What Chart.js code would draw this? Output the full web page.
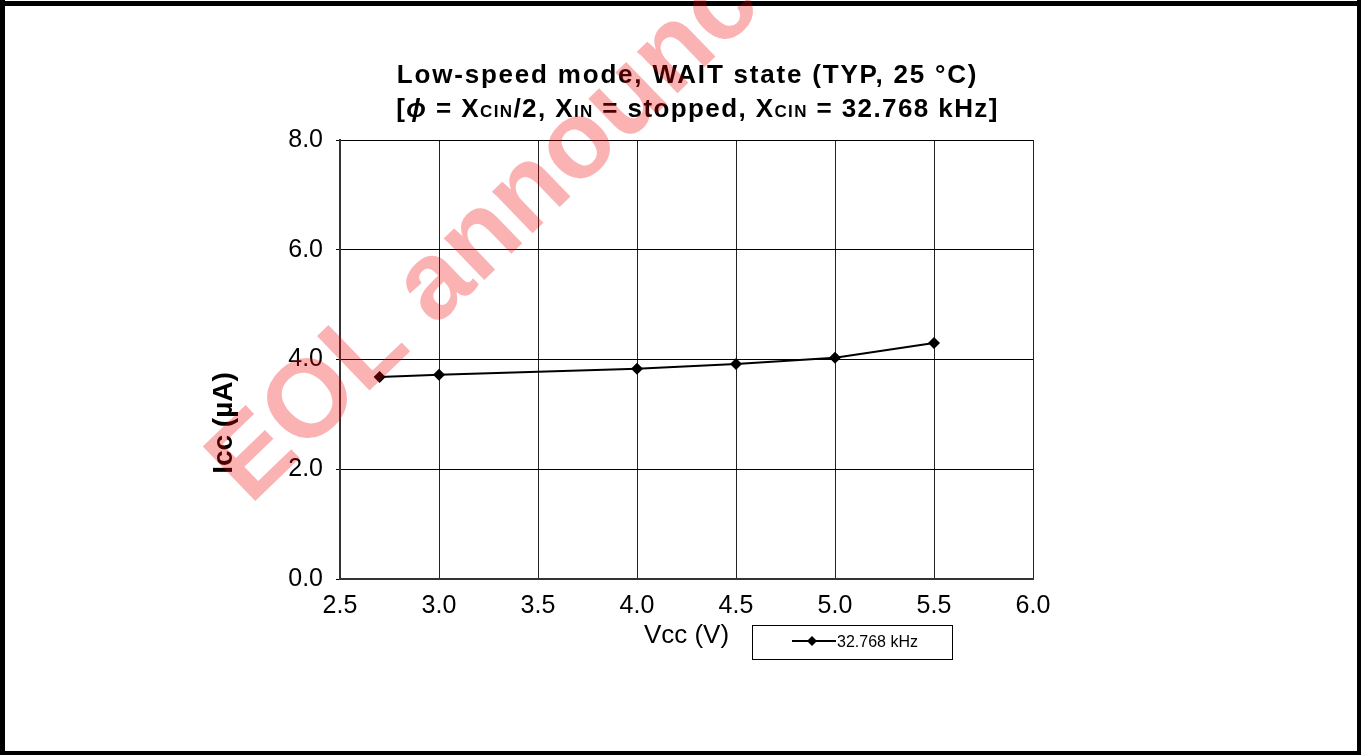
<!DOCTYPE html>
<html>
<head>
<meta charset="utf-8">
<script src="https://cdn.jsdelivr.net/npm/chart.js@4.4.0/dist/chart.umd.min.js"></script>
<style>
  html, body { margin: 0; padding: 0; background: #fff; }
  canvas { display: block; }
</style>
</head>
<body>
<canvas id="icc" width="1361" height="755"></canvas>
<script>
// supply voltage (V) vs typical supply current (uA), sub-clock 32.768 kHz
const vcc = [2.7, 3.0, 4.0, 4.5, 5.0, 5.5];
const icc = [3.68, 3.72, 3.83, 3.92, 4.03, 4.30];
const seriesName = "32.768 kHz";
const xTicks = [2.5, 3.0, 3.5, 4.0, 4.5, 5.0, 5.5, 6.0];
const yTicks = [0, 2, 4, 6, 8];

const FONT = "'Liberation Sans', Arial, sans-serif";

// title line 2 is built from pieces so the CIN / IN suffixes can be smaller
const titleLine1 = "Low-speed mode, WAIT state (TYP, 25 °C)";
const titleLine2 = [
  ["[", 0], ["ϕ", 2], [" = X", 0], ["CIN", 1], ["/2, X", 0], ["IN", 1],
  [" = stopped, X", 0], ["CIN", 1], [" = 32.768 kHz]", 0]
];

function pieceFont(kind) {
  if (kind === 1) return "bold 17px " + FONT;
  if (kind === 2) return "italic bold 26px " + FONT;
  return "bold 26px " + FONT;
}

function spacing(ctx, px) {
  if ("letterSpacing" in ctx) ctx.letterSpacing = px + "px";
}

const decorations = {
  id: "decorations",
  afterDraw(chart) {
    const ctx = chart.ctx;
    const area = chart.chartArea;
    const mid = (area.left + area.right) / 2;
    ctx.save();
    ctx.fillStyle = "#000";
    ctx.textBaseline = "alphabetic";

    // title
    spacing(ctx, 1.8);
    ctx.font = pieceFont(0);
    ctx.textAlign = "center";
    ctx.fillText(titleLine1, mid + 1, 83);

    spacing(ctx, 1.4);
    ctx.textAlign = "left";
    let total = 0;
    for (const [t, k] of titleLine2) {
      ctx.font = pieceFont(k);
      total += ctx.measureText(t).width;
    }
    let x = mid + 11 - total / 2;
    for (const [t, k] of titleLine2) {
      ctx.font = pieceFont(k);
      ctx.fillText(t, x, 117);
      x += ctx.measureText(t).width;
    }
    spacing(ctx, 0);

    // axis titles
    ctx.textAlign = "center";
    ctx.font = "26px " + FONT;
    ctx.fillText("Vcc (V)", mid, 643);

    ctx.save();
    ctx.translate(232, 423);
    ctx.rotate(-Math.PI / 2);
    ctx.font = "bold 28px " + FONT;
    ctx.fillText("Icc (µA)", 0, 0);
    ctx.restore();

    // legend box
    ctx.strokeStyle = "#000";
    ctx.lineWidth = 1;
    ctx.strokeRect(752.5, 625.5, 200, 34);
    ctx.lineWidth = 2;
    ctx.beginPath();
    ctx.moveTo(792, 641);
    ctx.lineTo(836, 641);
    ctx.stroke();
    ctx.beginPath();
    ctx.moveTo(812, 636);
    ctx.lineTo(817, 641);
    ctx.lineTo(812, 646);
    ctx.lineTo(807, 641);
    ctx.closePath();
    ctx.fill();
    ctx.textAlign = "left";
    ctx.font = "16px " + FONT;
    ctx.fillText(seriesName, 837, 647);

    // outer frame
    ctx.fillRect(0, 1, chart.width, 5);
    ctx.fillRect(0, 0, 5, chart.height);
    ctx.fillRect(chart.width - 4, 0, 4, chart.height);
    ctx.fillRect(0, chart.height - 4, chart.width, 4);

    // watermark stamp
    ctx.translate(250, 506);
    ctx.rotate(-44 * Math.PI / 180);
    ctx.font = "bold 110px " + FONT;
    ctx.fillStyle = "rgba(238, 0, 0, 0.3)";
    ctx.fillText("EOL announced", 0, 0);
    ctx.restore();
  }
};

const ctx = document.getElementById("icc").getContext("2d");
const chart = new Chart(ctx, {
  type: "line",
  data: {
    datasets: [{
      label: seriesName,
      data: vcc.map((v, i) => ({ x: v, y: icc[i] })),
      borderColor: "#000",
      backgroundColor: "#000",
      borderWidth: 2,
      pointStyle: "rectRot",
      pointRadius: 6,
      pointBackgroundColor: "#000",
      pointBorderWidth: 0,
      tension: 0,
      fill: false
    }]
  },
  options: {
    responsive: false,
    animation: false,
    layout: { padding: { top: 140, right: 328, bottom: 0, left: 0 } },
    plugins: {
      legend: { display: false },
      tooltip: { enabled: false },
      title: { display: false }
    },
    scales: {
      x: {
        type: "linear",
        min: 2.5,
        max: 6.0,
        afterBuildTicks: s => { s.ticks = xTicks.map(v => ({ value: v })); },
        afterFit: s => { s.height = 176; },
        ticks: {
          color: "#000",
          font: { family: FONT, size: 25 },
          padding: 12,
          maxRotation: 0,
          callback: v => v.toFixed(1)
        },
        grid: { color: "#222", lineWidth: 1, drawTicks: false },
        border: { color: "#333", width: 2 }
      },
      y: {
        min: 0,
        max: 8,
        afterBuildTicks: s => { s.ticks = yTicks.map(v => ({ value: v })); },
        afterFit: s => { s.width = 340; },
        ticks: {
          color: "#000",
          font: { family: FONT, size: 25 },
          padding: 13,
          callback: v => v.toFixed(1)
        },
        grid: { color: "#000", lineWidth: 1, tickLength: 4 },
        border: { color: "#333", width: 2 }
      }
    }
  },
  plugins: [decorations]
});
</script>
</body>
</html>
